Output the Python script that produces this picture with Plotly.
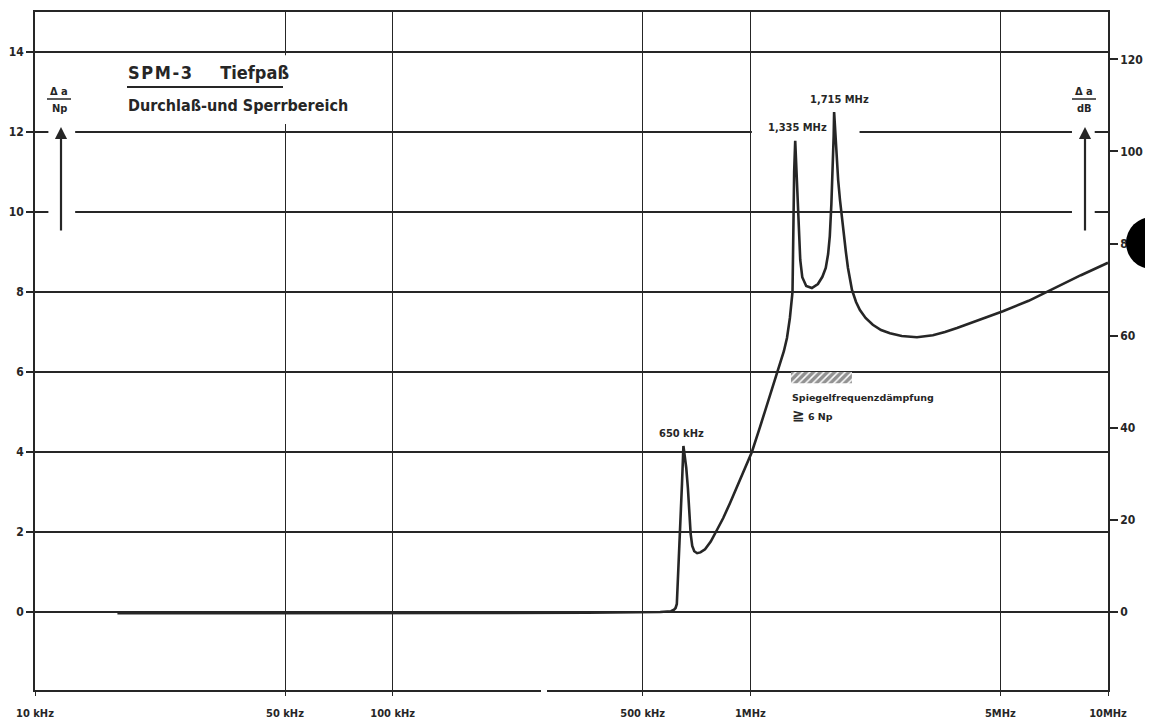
import math
import plotly.graph_objects as go

# ---------------- data ----------------
freq_khz = [17, 60, 150, 350, 560, 600, 612, 618, 623, 630, 637, 644, 650,
            662, 669, 675, 681, 688, 697, 710, 725, 747, 775, 801, 840, 877,
            935, 970, 1010, 1064, 1120, 1179, 1241, 1266,
            1290, 1312, 1318, 1326, 1335, 1348, 1361, 1379, 1397, 1433, 1486,
            1545, 1590, 1625, 1650, 1668, 1685, 1700, 1710, 1715, 1740, 1760,
            1781, 1815, 1850, 1875, 1900, 1924, 1975, 2025, 2100, 2200, 2320,
            2457, 2650, 2923, 3239, 3500, 3782, 4300, 5084, 6000, 7015, 8400,
            10000]
atten_np = [-0.03, -0.03, -0.03, -0.02, 0.0, 0.02, 0.06, 0.1, 0.2, 1.1, 2.1, 3.2, 4.15,
            3.6, 3.1, 2.5, 1.95, 1.65, 1.52, 1.47, 1.49, 1.57, 1.76, 2.0, 2.35, 2.72,
            3.3, 3.63, 4.0, 4.62, 5.25, 5.88, 6.52, 6.85,
            7.35, 8.0, 10.0, 11.0, 11.78, 10.8, 9.7, 8.8, 8.37, 8.15, 8.1,
            8.2, 8.38, 8.6, 8.95, 9.4, 10.2, 11.0, 11.9, 12.5, 11.5, 10.8,
            10.3, 9.6, 9.0, 8.6, 8.3, 8.05, 7.75, 7.55, 7.35, 7.18, 7.05,
            6.97, 6.9, 6.87, 6.92, 7.0, 7.1, 7.28, 7.52, 7.78, 8.08, 8.42,
            8.73]

peak_khz = [650, 1335, 1715]
peak_labels = ["650 kHz", "1,335 MHz", "1,715 MHz"]
peak_label_xshift = [-2, 2, 5]

spec_khz = [1299, 1923]          # image-frequency attenuation requirement band
spec_np = 6.0
spec_text = "Spiegelfrequenzdämpfung"
spec_text2 = "<span style='font-size:15px'>≧</span> 6 Np"

x_tick_hz = [1e4, 5e4, 1e5, 5e5, 1e6, 5e6, 1e7]
x_tick_text = ["10 kHz", "50 kHz", "100 kHz", "500 kHz", "1MHz", "5MHz", "10MHz"]
y_np_ticks = [0, 2, 4, 6, 8, 10, 12, 14]
y_db_ticks = [0, 20, 40, 60, 80, 100, 120]
y_np_range = [-1.95, 15.0]
NP_TO_DB = 8.6859

HS = "\u200a"
title1 = "<b>" + HS.join("SPM-3") + "     Tiefpaß</b>"
title2 = "<b>Durchlaß-und Sperrbereich</b>"

# ---------------- styling ----------------
INK = "#262626"
FONT = "DejaVu Sans Condensed, Liberation Sans Narrow, sans-serif"
BODY = 8                      # default page margin of the html body
WIN_W, WIN_H = 1153, 724
W, H = WIN_W - BODY, WIN_H - BODY
PL, PR, PT, PB = 35, 1108, 12, 690   # plot frame in window pixels
L, R, T, B = PL - BODY, WIN_W - PR, PT - BODY, WIN_H - PB
PW, PH = PR - PL, PB - PT


def pp(xp, yp):
    """window pixel position -> paper coordinates"""
    return (xp - PL) / PW, (PB - yp) / PH


freq_hz = [f * 1e3 for f in freq_khz]

fig = go.Figure()

# hatched spec band
sx0, sx1 = spec_khz[0] * 1e3, spec_khz[1] * 1e3
fig.add_trace(go.Scatter(
    x=[sx0, sx1, sx1, sx0, sx0],
    y=[spec_np, spec_np, spec_np - 0.28, spec_np - 0.28, spec_np],
    mode="lines", fill="toself", line=dict(width=0, color=INK),
    fillcolor="white",
    fillpattern=dict(shape="/", fgcolor=INK, bgcolor="white", size=5, solidity=0.7),
    hoverinfo="skip", showlegend=False))

# attenuation curve
fig.add_trace(go.Scatter(
    x=freq_hz, y=atten_np, mode="lines",
    line=dict(color=INK, width=2.6), showlegend=False))

# same curve in dB on right axis (invisible, carries the dB axis)
fig.add_trace(go.Scatter(
    x=freq_hz, y=[v * NP_TO_DB for v in atten_np], mode="lines",
    line=dict(width=0), opacity=0, yaxis="y2", hoverinfo="skip",
    showlegend=False))

tickfont = dict(family=FONT, size=12, color=INK, weight="bold")

fig.update_layout(
    width=W, height=H,
    margin=dict(l=L, r=R, t=T, b=B, autoexpand=False),
    paper_bgcolor="white", plot_bgcolor="white",
    showlegend=False,
    xaxis=dict(type="log", range=[4, 7], tickvals=x_tick_hz, ticktext=x_tick_text,
               showgrid=True, gridcolor=INK, gridwidth=1.4,
               showline=True, linecolor=INK, linewidth=1.6, mirror=True,
               ticks="outside", ticklen=4, tickcolor=INK, tickwidth=1.3,
               tickfont=dict(family=FONT, size=11, color=INK, weight="bold"),
               ticklabelstandoff=8, zeroline=False),
    yaxis=dict(range=y_np_range, tickvals=y_np_ticks,
               showgrid=True, gridcolor=INK, gridwidth=1.8,
               showline=True, linecolor=INK, linewidth=1.6, mirror=True,
               ticks="outside", ticklen=7, tickcolor=INK, tickwidth=1.5,
               tickfont=tickfont, zeroline=False),
    yaxis2=dict(overlaying="y", side="right",
                range=[y_np_range[0] * NP_TO_DB, y_np_range[1] * NP_TO_DB],
                tickvals=y_db_ticks, showgrid=False, zeroline=False,
                showline=True, linecolor=INK, linewidth=1.6,
                ticks="outside", ticklen=8, tickcolor=INK, tickwidth=1.5,
                tickfont=tickfont),
)

# ---------- gaps in the grid (white masks between grid and traces) ----------
masks = [
    (10.9e3, 12.95e3, 9.6, 12.4),     # left arrow
    (7.93e6, 9.18e6, 9.6, 12.4),      # right arrow
    (1.01e6, 2.02e6, 11.85, 12.15),   # peak labels
    (47e3, 53e3, 12.2, 13.92),        # title area
]
for x0, x1, y0, y1 in masks:
    fig.add_shape(type="rect", xref="x", yref="y", x0=x0, x1=x1, y0=y0, y1=y1,
                  fillcolor="white", line=dict(width=0), layer="between")

# small break in bottom border
bx0, _ = pp(541, 0)
bx1, _ = pp(547, 0)
fig.add_shape(type="rect", xref="paper", yref="paper", x0=bx0, x1=bx1,
              y0=-0.004, y1=0.004, fillcolor="white", line=dict(width=0),
              layer="above")

# ---------- texts ----------
ann = []
tx, ty = pp(126, 72)
ann.append(dict(x=tx, y=ty, xref="paper", yref="paper", text=title1,
                showarrow=False, xanchor="left", yanchor="middle",
                font=dict(family=FONT, size=18, color=INK)))
tx, ty = pp(126, 105)
ann.append(dict(x=tx, y=ty, xref="paper", yref="paper", text=title2,
                showarrow=False, xanchor="left", yanchor="middle",
                font=dict(family=FONT, size=16, color=INK)))

# title underline
ux0, uy = pp(127, 87)
ux1, _ = pp(283, 87)
fig.add_shape(type="line", xref="paper", yref="paper", x0=ux0, x1=ux1, y0=uy, y1=uy,
              line=dict(color=INK, width=2))

# axis unit fractions
for cx, unit in [(59, "Np"), (1084, "dB")]:
    fx, fy = pp(cx, 91)
    ann.append(dict(x=fx, y=fy, xref="paper", yref="paper", text="<b>Δ a</b>",
                    showarrow=False, xanchor="center", yanchor="middle",
                    font=dict(family=FONT, size=11, color=INK)))
    fx, fy = pp(cx, 108)
    ann.append(dict(x=fx, y=fy, xref="paper", yref="paper", text=f"<b>{unit}</b>",
                    showarrow=False, xanchor="center", yanchor="middle",
                    font=dict(family=FONT, size=11, color=INK)))
    lx0, ly = pp(cx - 12, 99)
    lx1, _ = pp(cx + 12, 99)
    fig.add_shape(type="line", xref="paper", yref="paper", x0=lx0, x1=lx1,
                  y0=ly, y1=ly, line=dict(color=INK, width=1.5))

# vertical arrows
for axp in [61, 1085]:
    hx, hy = pp(axp, 127)
    ann.append(dict(x=hx, y=hy, xref="paper", yref="paper", text="",
                    showarrow=True, ax=0, ay=105, arrowhead=2, arrowsize=1.1,
                    arrowwidth=2.2, arrowcolor=INK))

# peak labels
for f, lab, xs in zip(peak_khz, peak_labels, peak_label_xshift):
    i = freq_khz.index(f)
    ann.append(dict(x=math.log10(f * 1e3), y=atten_np[i], xref="x", yref="y",
                    text=f"<b>{lab}</b>", showarrow=False,
                    xanchor="center", yanchor="middle", xshift=xs, yshift=13,
                    font=dict(family=FONT, size=11, color=INK)))

# spec text
ann.append(dict(x=math.log10(spec_khz[0] * 1e3), y=spec_np, xref="x", yref="y",
                text=f"<b>{spec_text}</b>", showarrow=False,
                xanchor="left", yanchor="middle", yshift=-25, xshift=-1,
                font=dict(family="DejaVu Sans, sans-serif", size=9.5, color=INK)))
ann.append(dict(x=math.log10(spec_khz[0] * 1e3), y=spec_np, xref="x", yref="y",
                text=f"<b>{spec_text2}</b>", showarrow=False,
                xanchor="left", yanchor="middle", yshift=-43, xshift=-1,
                font=dict(family="DejaVu Sans, sans-serif", size=9.5, color=INK)))

fig.update_layout(annotations=ann)

# hole punch in the scanned sheet
cx0, cy0 = pp(1126, 217)
cx1, cy1 = pp(1178, 269)
fig.add_shape(type="circle", xref="paper", yref="paper", x0=cx0, x1=cx1,
              y0=cy1, y1=cy0, fillcolor="black", line=dict(width=0), layer="above")

fig.write_html("out.html")
